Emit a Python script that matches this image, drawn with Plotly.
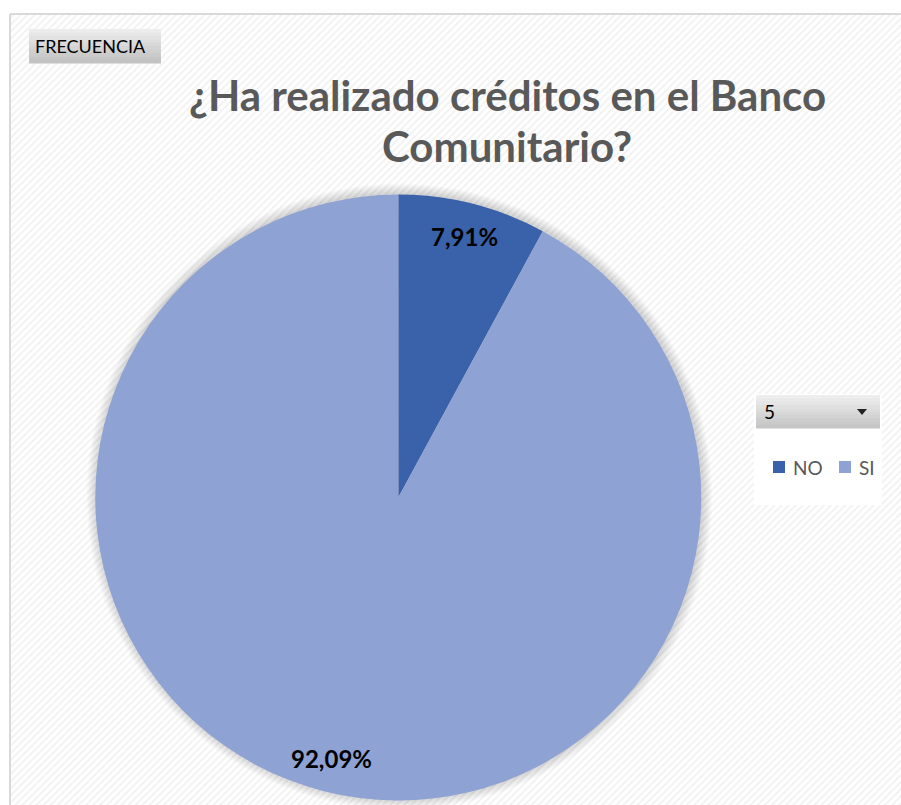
import numpy as np
import plotly.graph_objects as go

# ---------------- data ----------------
categories = ["NO", "SI"]
values = [7.91, 92.09]
pct_labels = ["7,91%", "92,09%"]
slice_colors = ["#3A62AB", "#8FA2D4"]
title_lines = ["¿Ha realizado créditos en el Banco", "Comunitario?"]
filter_label = "FRECUENCIA"
dropdown_value = "5"

# ---------------- layout constants (pixels) ----------------
W, H = 901, 805
cx, cy, r = 398.3, 497.5, 303.0
FONT = "Lato, 'Open Sans', sans-serif"
GREY = "#595959"

fig = go.Figure()

# hatched chart-area background
fig.add_trace(go.Scatter(
    x=[10, W + 5, W + 5, 10, 10], y=[14, 14, H + 5, H + 5, 14],
    mode="lines", fill="toself", line=dict(width=0),
    fillcolor="#ffffff",
    fillpattern=dict(shape="/", bgcolor="#ffffff", fgcolor="#e4e4e4", size=5, solidity=0.35),
    hoverinfo="skip", showlegend=False))

# soft shadow around the pie
th = np.linspace(0, 2 * np.pi, 181)
for k in range(1, 11):
    rr = r + k
    fig.add_trace(go.Scatter(
        x=cx + 1 + rr * np.cos(th), y=cy - 1 + rr * np.sin(th),
        mode="lines", fill="toself", line=dict(width=0),
        fillcolor="rgba(0,0,0,0.014)", hoverinfo="skip", showlegend=False))

# pie
fig.add_trace(go.Pie(
    labels=categories, values=values, sort=False, direction="clockwise", rotation=0,
    marker=dict(colors=slice_colors, line=dict(width=0)),
    textinfo="none", hoverinfo="label+percent", showlegend=False,
    domain=dict(x=[(cx - r) / W, (cx + r) / W], y=[(H - cy - r) / H, (H - cy + r) / H]),
))

annotations = []
# data labels at "inside end"
total = sum(values)
start = 0.0
for v, lab in zip(values, pct_labels):
    mid = (start + v / 2) / total * 2 * np.pi
    start += v
    lx = cx + 0.89 * r * np.sin(mid)
    ly = cy - 0.89 * r * np.cos(mid)
    annotations.append(dict(x=lx, y=ly, xref="x", yref="y", text=f"<b>{lab}</b>",
                            showarrow=False, font=dict(family=FONT, size=24, color="#000000")))

# title
for i, line in enumerate(title_lines):
    annotations.append(dict(x=507, y=95 + 51 * i, xref="x", yref="y", text=f"<b>{line}</b>",
                            showarrow=False, font=dict(family=FONT, size=42, color=GREY)))

shapes = []
# chart border
shapes.append(dict(type="line", xref="x", yref="y", x0=10, x1=W + 5, y0=14, y1=14,
                   line=dict(color="#d9d9d9", width=2)))
shapes.append(dict(type="line", xref="x", yref="y", x0=10, x1=10, y0=14, y1=H + 5,
                   line=dict(color="#d9d9d9", width=2)))


def gradient_button(x0, x1, y0, y1, c_top, c_bot, n=10):
    t = np.array([int(c_top[i:i + 2], 16) for i in (1, 3, 5)])
    b = np.array([int(c_bot[i:i + 2], 16) for i in (1, 3, 5)])
    hstep = (y1 - y0) / n
    for i in range(n):
        c = t + (b - t) * i / (n - 1)
        shapes.append(dict(type="rect", xref="x", yref="y", x0=x0, x1=x1,
                           y0=y0 + i * hstep, y1=y0 + (i + 1) * hstep + 0.5,
                           fillcolor="rgb(%d,%d,%d)" % tuple(c), line=dict(width=0), layer="above"))


# FRECUENCIA field button
gradient_button(29, 161, 29, 63, "#ececec", "#c2c2c2")
annotations.append(dict(x=33, y=46, xref="x", yref="y", xanchor="left", text=filter_label,
                        showarrow=False, font=dict(family=FONT, size=18, color="#000000")))

# legend box + dropdown
shapes.append(dict(type="rect", xref="x", yref="y", x0=754, x1=882, y0=394, y1=505,
                   fillcolor="#ffffff", line=dict(width=0), layer="above"))
gradient_button(756, 880, 395, 428, "#eeeeee", "#c6c6c6")
annotations.append(dict(x=762, y=411, xref="x", yref="y", xanchor="left", text=dropdown_value,
                        showarrow=False, font=dict(family=FONT, size=19, color="#000000")))
shapes.append(dict(type="path", xref="x", yref="y", path="M 857 409 L 867 409 L 862 415 Z",
                   fillcolor="#222222", line=dict(width=0), layer="above"))

# legend entries (Excel style: small square + label)
for i, (cat, col) in enumerate(zip(categories, slice_colors)):
    sx = 773 + 66 * i
    shapes.append(dict(type="rect", xref="x", yref="y", x0=sx, x1=sx + 12, y0=461, y1=473,
                       fillcolor=col, line=dict(width=0), layer="above"))
    annotations.append(dict(x=sx + 18, y=467, xref="x", yref="y", xanchor="left", text=cat,
                            showarrow=False, font=dict(family=FONT, size=19, color=GREY)))

fig.update_layout(
    width=W, height=H, autosize=False,
    margin=dict(l=0, r=0, t=0, b=0),
    paper_bgcolor="#ffffff", plot_bgcolor="rgba(0,0,0,0)",
    xaxis=dict(range=[0, W], visible=False, fixedrange=True, domain=[0, 1]),
    yaxis=dict(range=[H, 0], visible=False, fixedrange=True, domain=[0, 1]),
    showlegend=False,
    shapes=shapes, annotations=annotations,
)

fig.write_html("out.html", config={"displayModeBar": False},
               post_script="document.body.style.margin='0px';")
